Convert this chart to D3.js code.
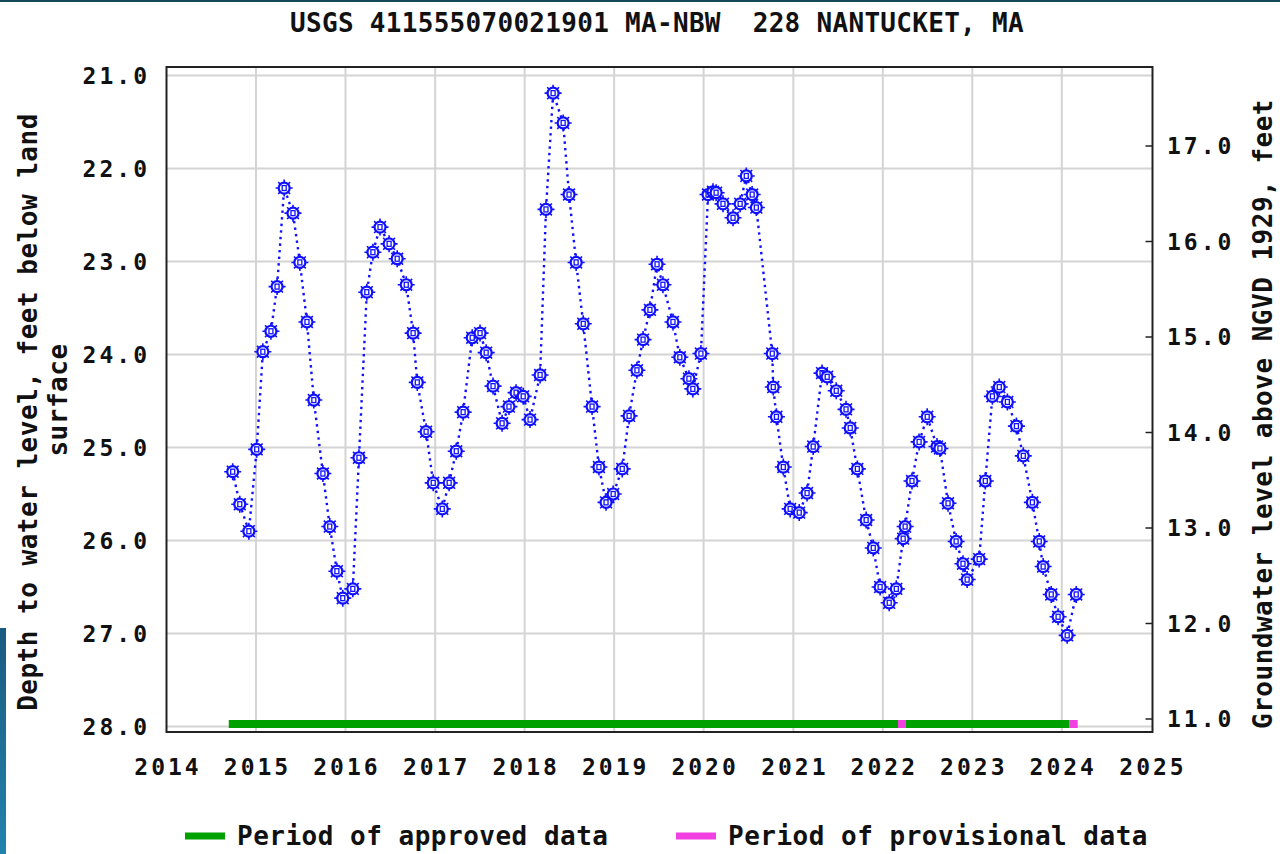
<!DOCTYPE html>
<html>
<head>
<meta charset="utf-8">
<script src="https://cdn.jsdelivr.net/npm/d3@7"></script>
<style>
  html, body { margin: 0; padding: 0; background: #fff; }
  svg { display: block; }
  text { font-family: "DejaVu Sans Mono", "Liberation Mono", monospace; font-weight: bold; fill: #111; white-space: pre; }
</style>
</head>
<body>
<svg width="1280" height="854"></svg>
<script>
// measured depths to water (feet below land surface)
var dates = ["2014-09-28","2014-10-27","2014-12-03","2015-01-04","2015-01-29","2015-03-03","2015-03-28","2015-04-26",
  "2015-06-01","2015-06-29","2015-07-28","2015-08-25","2015-10-01","2015-10-29","2015-11-27","2015-12-21",
  "2016-01-31","2016-02-25","2016-03-28","2016-04-22","2016-05-21","2016-06-27","2016-07-30","2016-09-05",
  "2016-10-03","2016-10-20","2016-11-25","2016-12-24","2017-01-30","2017-02-27","2017-03-28","2017-04-25",
  "2017-06-01","2017-07-03","2017-07-28","2017-08-25","2017-10-01","2017-10-29","2017-11-27","2017-12-26",
  "2018-01-23","2018-03-05","2018-03-29","2018-04-27","2018-06-07","2018-07-01","2018-07-30","2018-08-28",
  "2018-10-03","2018-10-31","2018-11-29","2018-12-28","2019-02-03","2019-03-03","2019-04-04","2019-04-29",
  "2019-05-27","2019-06-25","2019-07-19","2019-08-29","2019-09-26","2019-11-02","2019-11-18","2019-12-21",
  "2020-01-19","2020-02-08","2020-02-21","2020-03-20","2020-04-30","2020-05-29","2020-06-23","2020-07-17",
  "2020-08-03","2020-10-07","2020-10-11","2020-10-24","2020-11-21","2020-12-19","2021-01-25","2021-02-26",
  "2021-03-23","2021-04-28","2021-05-19","2021-06-25","2021-08-04","2021-08-21","2021-09-19","2021-10-25",
  "2021-11-23","2021-12-21","2022-01-27","2022-02-25","2022-03-25","2022-04-02","2022-04-30","2022-05-29",
  "2022-07-01","2022-08-10","2022-08-22","2022-09-24","2022-10-27","2022-11-24","2022-12-11","2023-01-29",
  "2023-02-23","2023-03-24","2023-04-21","2023-05-24","2023-06-30","2023-07-28","2023-09-03","2023-10-01",
  "2023-10-17","2023-11-19","2023-12-17","2024-01-23","2024-02-29"];
var depths = [25.26,25.61,25.90,25.02,23.97,23.75,23.27,22.21,
  22.48,23.01,23.65,24.49,25.28,25.85,26.33,26.62,
  26.52,25.11,23.33,22.90,22.63,22.81,22.97,23.25,
  23.77,24.30,24.83,25.38,25.66,25.38,25.04,24.62,
  23.82,23.77,23.98,24.34,24.74,24.56,24.41,24.45,
  24.70,24.22,22.44,21.19,21.51,22.28,23.01,23.67,
  24.56,25.21,25.59,25.50,25.23,24.66,24.17,23.84,
  23.52,23.03,23.25,23.65,24.03,24.26,24.37,23.99,
  22.28,22.25,22.26,22.38,22.53,22.38,22.08,22.28,
  22.42,23.99,24.35,24.67,25.21,25.66,25.70,25.49,
  24.99,24.20,24.24,24.39,24.59,24.79,25.23,25.78,
  26.08,26.50,26.67,26.52,25.98,25.85,25.36,24.94,
  24.67,24.99,25.01,25.60,26.01,26.25,26.42,26.20,
  25.36,24.45,24.35,24.51,24.77,25.09,25.59,26.01,
  26.28,26.58,26.82,27.02,26.58];

// approval periods [start, end, status]
var periodStart = ["2014-09-12","2022-03-04","2022-04-05","2024-01-31"];
var periodEnd   = ["2022-03-04","2022-04-05","2024-01-31","2024-03-06"];
var periodType  = ["approved","provisional","approved","provisional"];

var depthTicks = [21,22,23,24,25,26,27,28];
var elevTicks = [11,12,13,14,15,16,17];
var yearTicks = d3.range(2014, 2026);

var titleText = "USGS 411555070021901 MA-NBW  228 NANTUCKET, MA";
var leftTitle = ["Depth to water level, feet below land", "surface"];
var rightTitle = "Groundwater level above NGVD 1929, feet";
var legendLabels = ["Period of approved data", "Period of provisional data"];
var periodColor = {approved: "#00a000", provisional: "#f040e0"};

var parse = d3.timeParse("%Y-%m-%d");
var points = dates.map(function(d, i) { return {date: parse(d), depth: depths[i]}; });

var svg = d3.select("svg");
var plotL = 166.5, plotR = 1152.5, plotT = 67, plotB = 732;

var x = d3.scaleTime()
    .domain([new Date(2014, 0, 1), new Date(2025, 0, 1)])
    .range([plotL, plotR - 1]);
var y = d3.scaleLinear().domain([21, 28]).range([75.5, 726.5]);
var y2 = d3.scaleLinear().domain([11, 17]).range([719, 146]);

// page decorations
svg.append("rect").attr("x", 0).attr("y", 0).attr("width", 1280).attr("height", 2).attr("fill", "#14485a");
var grad = svg.append("defs").append("linearGradient").attr("id", "sideg")
    .attr("x1", 0).attr("y1", 0).attr("x2", 0).attr("y2", 1);
grad.append("stop").attr("offset", "0%").attr("stop-color", "#1b5a80");
grad.append("stop").attr("offset", "100%").attr("stop-color", "#2283ad");
svg.append("rect").attr("x", 0).attr("y", 628).attr("width", 6).attr("height", 226).attr("fill", "url(#sideg)");

// grid
var grid = svg.append("g").attr("stroke", "#d4d4d4").attr("stroke-width", 2);
grid.selectAll(".vg").data(yearTicks.slice(1, -1)).enter().append("line")
    .attr("x1", function(d) { return x(new Date(d, 0, 1)); })
    .attr("x2", function(d) { return x(new Date(d, 0, 1)); })
    .attr("y1", plotT).attr("y2", plotB);
grid.selectAll(".hg").data(depthTicks).enter().append("line")
    .attr("x1", plotL).attr("x2", plotR)
    .attr("y1", function(d) { return y(d); })
    .attr("y2", function(d) { return y(d); });

// approval bar
svg.selectAll(".period").data(periodStart).enter().append("rect")
    .attr("x", function(d) { return x(parse(d)); })
    .attr("width", function(d, i) { return x(parse(periodEnd[i])) - x(parse(d)); })
    .attr("y", 720).attr("height", 8)
    .attr("fill", function(d, i) { return periodColor[periodType[i]]; });

// frame
svg.append("rect").attr("x", plotL).attr("y", plotT)
    .attr("width", plotR - plotL).attr("height", plotB - plotT)
    .attr("fill", "none").attr("stroke", "#222").attr("stroke-width", 2);

// right axis ticks (inward)
svg.selectAll(".rt").data(elevTicks).enter().append("line")
    .attr("x1", plotR - 7).attr("x2", plotR)
    .attr("y1", function(d) { return y2(d); })
    .attr("y2", function(d) { return y2(d); })
    .attr("stroke", "#222").attr("stroke-width", 1.5);

// tick labels
var fmt = d3.format(".1f");
svg.selectAll(".ly").data(depthTicks).enter().append("text")
    .attr("x", 150).attr("y", function(d) { return y(d); })
    .attr("dy", "0.36em").attr("text-anchor", "end")
    .style("font-size", "23px").style("letter-spacing", "3px")
    .text(fmt);
svg.selectAll(".ry").data(elevTicks).enter().append("text")
    .attr("x", 1167).attr("y", function(d) { return y2(d); })
    .attr("dy", "0.36em").attr("text-anchor", "start")
    .style("font-size", "23px").style("letter-spacing", "3px")
    .text(fmt);
svg.selectAll(".xl").data(yearTicks).enter().append("text")
    .attr("x", function(d) { return x(new Date(d, 0, 1)) + 1.5; })
    .attr("y", 767).attr("dy", "0.36em").attr("text-anchor", "middle")
    .style("font-size", "23px").style("letter-spacing", "3px")
    .text(function(d) { return d; });

// titles
svg.append("text").attr("x", 657).attr("y", 23).attr("dy", "0.36em")
    .attr("text-anchor", "middle").style("font-size", "26px").style("letter-spacing", "0.3px")
    .text(titleText);
svg.selectAll(".lt").data(leftTitle).enter().append("text")
    .attr("transform", function(d, i) { return "translate(" + (28 + i * 30) + "," + (i ? 400 : 412) + ") rotate(-90)"; })
    .attr("dy", "0.36em").attr("text-anchor", "middle")
    .style("font-size", "26px").style("letter-spacing", "0.5px")
    .text(function(d) { return d; });
svg.append("text").attr("transform", "translate(1263,414) rotate(-90)")
    .attr("dy", "0.36em").attr("text-anchor", "middle")
    .style("font-size", "26px").style("letter-spacing", "0.5px")
    .text(rightTitle);

// series line
var line = d3.line()
    .x(function(d) { return x(d.date); })
    .y(function(d) { return y(d.depth); });
svg.append("path").datum(points)
    .attr("d", line).attr("fill", "none")
    .attr("stroke", "#1010ff").attr("stroke-width", 2.4)
    .attr("stroke-dasharray", "2.4,4.2");

// markers
var mk = svg.selectAll(".mk").data(points).enter().append("g")
    .attr("transform", function(d) { return "translate(" + x(d.date) + "," + y(d.depth) + ")"; })
    .attr("stroke", "#1010ff").attr("fill", "none");
mk.append("circle").attr("r", 5.5).attr("stroke-width", 2.2).attr("fill", "#fff");
mk.append("path").attr("d", "M0,-5.5V-8.5M0,5.5V8.5M-5.5,0H-8.5M5.5,0H8.5M-3.8,-3.8L-5.9,-5.9M3.8,-3.8L5.9,-5.9M-3.8,3.8L-5.9,5.9M3.8,3.8L5.9,5.9")
    .attr("stroke-width", 1.6);
mk.append("rect").attr("x", -2).attr("y", -2.5).attr("width", 4).attr("height", 5).attr("stroke-width", 1.3);

// legend
var legX = [185, 676];
var leg = svg.selectAll(".leg").data(legendLabels).enter().append("g")
    .attr("transform", function(d, i) { return "translate(" + legX[i] + ",836)"; });
leg.append("rect").attr("x", 0).attr("y", -3.5).attr("width", 40).attr("height", 7)
    .attr("fill", function(d, i) { return i ? periodColor.provisional : periodColor.approved; });
leg.append("text").attr("x", 52).attr("dy", "0.36em")
    .style("font-size", "26px").style("letter-spacing", "0.5px")
    .text(function(d) { return d; });
</script>
</body>
</html>
